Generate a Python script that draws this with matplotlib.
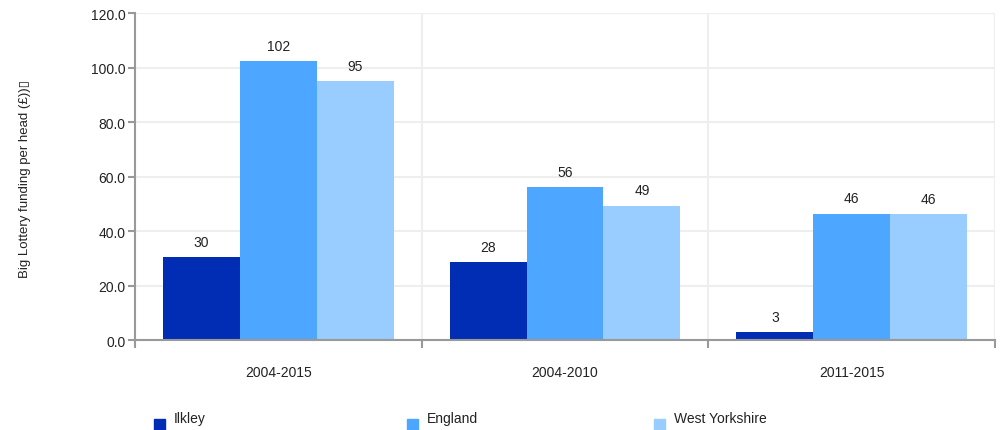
import matplotlib.pyplot as plt
import numpy as np
from matplotlib.patches import Rectangle

plt.rcParams['font.family'] = ['Liberation Sans', 'DejaVu Sans']

# 数据
periods = ['2004-2015', '2004-2010', '2011-2015']
series = ['Ilkley', 'England', 'West Yorkshire']
ilkley = [30.4, 28.5, 2.9]
england = [102.3, 56.1, 46.4]
west_yorkshire = [95.0, 49.3, 46.1]
bar_labels = [[30, 28, 3], [102, 56, 46], [95, 49, 46]]
colors = ['#002db3', '#4da6ff', '#99ccff']
y_ticks = [0, 20, 40, 60, 80, 100, 120]

fig = plt.figure(figsize=(10, 4.31), dpi=100)
ax = fig.add_axes([0.135, 0.2088, 0.86, 0.7587])

x = np.arange(len(periods))
width = 0.268
for i, (vals, col) in enumerate(zip([ilkley, england, west_yorkshire], colors)):
    pos = x + (i - 1) * width
    ax.bar(pos, vals, width=width, color=col, zorder=2)
    for px, v, lab in zip(pos, vals, bar_labels[i]):
        ax.annotate(str(lab), (px, v), xytext=(0, 6), textcoords='offset points',
                    ha='center', va='bottom', fontsize=10, color='#222222')

ax.set_xlim(-0.5, 2.5)
ax.set_ylim(0, 120)
ax.set_yticks(y_ticks)
ax.set_yticklabels([f'{t:.1f}' for t in y_ticks], fontsize=10, color='#222222')

# 分组边界线
ax.set_xticks([-0.5, 0.5, 1.5, 2.5])
ax.set_xticklabels([])
ax.set_xticks(x, minor=True)
ax.set_xticklabels(periods, minor=True, fontsize=10, color='#222222')
ax.tick_params(axis='x', which='minor', length=0, pad=18)
ax.tick_params(axis='x', which='major', length=6, color='#999999', width=1.5)
ax.tick_params(axis='y', length=5, color='#999999', width=1.5, pad=2)

ax.grid(True, which='major', color='#eeeeee', linewidth=1.5, zorder=0)
ax.set_axisbelow(True)
for s in ['top', 'right']:
    ax.spines[s].set_visible(False)
for s in ['left', 'bottom']:
    ax.spines[s].set_color('#999999')
    ax.spines[s].set_linewidth(1.5)

fig.text(0.025, 0.585, 'Big Lottery funding per head (£))\u25af', rotation=90,
         ha='center', va='center', fontsize=9.5, color='#222222')

# 图例
leg_x = [0.154, 0.407, 0.654]
for lx, name, col in zip(leg_x, series, colors):
    fig.add_artist(Rectangle((lx, 0.0), 0.011, 0.026, transform=fig.transFigure,
                             color=col))
    fig.text(lx + 0.02, 0.028, name, ha='left', va='center', fontsize=10,
             color='#222222')

plt.savefig('out.png', dpi=100)
plt.close()
